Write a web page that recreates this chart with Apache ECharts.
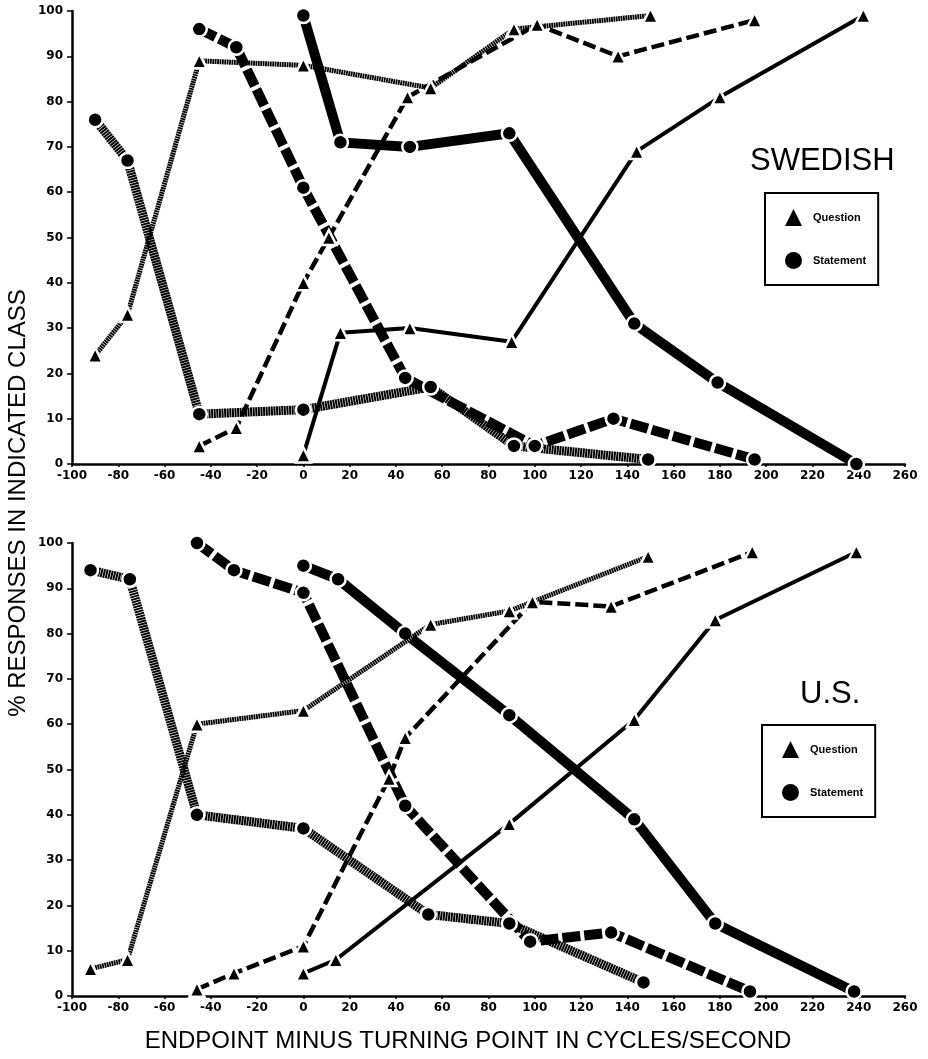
<!DOCTYPE html>
<html>
<head>
<meta charset="utf-8">
<script src="https://cdn.jsdelivr.net/npm/echarts@6/dist/echarts.min.js"></script>
<style>
  html, body { margin: 0; padding: 0; background: #fff; }
  #chart { width: 928px; height: 1059px; }
</style>
</head>
<body>
<div id="chart"></div>
<script>
// x = endpoint minus turning point (cps), y = % responses
// Swedish panel
const swQHatch = [[-90, 24], [-76, 33], [-45, 89], [0, 88], [55, 83], [91, 96], [150, 99]];
const swSHatch = [[-90, 76], [-76, 67], [-45, 11], [0, 12], [55, 17], [91, 4], [149, 1]];
const swQDash  = [[-45, 4], [-29, 8], [0, 40], [11, 50], [45, 81], [101, 97], [136, 90], [195, 98]];
const swSDash  = [[-45, 96], [-29, 92], [0, 61], [44, 19], [100, 4], [134, 10], [195, 1]];
const swQSolid = [[0, 2], [16, 29], [46, 30], [90, 27], [144, 69], [180, 81], [242, 99]];
const swSSolid = [[0, 99], [16, 71], [46, 70], [89, 73], [143, 31], [179, 18], [239, 0]];
// U.S. panel
const usQHatch = [[-92, 6], [-76, 8], [-46, 60], [0, 63], [55, 82], [89, 85], [149, 97]];
const usSHatch = [[-92, 94], [-75, 92], [-46, 40], [0, 37], [54, 18], [89, 16], [147, 3]];
const usQDash  = [[-46, 1.5], [-30, 5], [0, 11], [37, 48], [44, 57], [99, 87], [133, 86], [194, 98]];
const usSDash  = [[-46, 100], [-30, 94], [0, 89], [44, 42], [98, 12], [133, 14], [193, 1]];
const usQSolid = [[0, 5], [14, 8], [89, 38], [143, 61], [178, 83], [239, 98]];
const usSSolid = [[0, 95], [15, 92], [44, 80], [89, 62], [143, 39], [178, 16], [238, 1]];

const xMin = -100, xMax = 260, xStep = 20;
const yMin = 0, yMax = 100, yStep = 10;
const panelNames = ['SWEDISH', 'U.S.'];
const xTitle = 'ENDPOINT MINUS TURNING POINT IN CYCLES/SECOND';
const yTitle = '% RESPONSES IN INDICATED CLASS';

const tickFont = { fontFamily: 'DejaVu Sans', fontWeight: 'bold', fontSize: 12, color: '#000' };

// hatched lines: fine stripes across the stroke
const styles = {
  hatchQ: { width: 5, type: [1.8, 0.6] },
  hatchS: { width: 9, type: [2, 0.6] },
  dashQ:  { width: 4.5, type: [13, 5] },
  dashS:  { width: 10, type: [18, 4] },
  solidQ: { width: 4, type: 'solid' },
  solidS: { width: 10, type: 'solid' }
};

function mk(name, data, idx, st) {
  const isQ = name === 'Question';
  return {
    type: 'line',
    name: name,
    data: data,
    xAxisIndex: idx,
    yAxisIndex: idx,
    symbol: isQ ? 'triangle' : 'circle',
    symbolSize: 15,
    clip: false,
    animation: false,
    lineStyle: Object.assign({ color: '#000', cap: 'butt' }, styles[st]),
    itemStyle: { color: '#000', borderColor: '#fff', borderWidth: 2.5 },
    z: isQ ? 3 : 2
  };
}

function xAx(idx) {
  return {
    type: 'value', gridIndex: idx, min: xMin, max: xMax, interval: xStep,
    axisLine: { onZero: false, lineStyle: { color: '#000', width: 2.5 } },
    axisTick: { show: true, length: 3, lineStyle: { color: '#000', width: 1.5 } },
    axisLabel: Object.assign({ margin: 6 }, tickFont),
    splitLine: { show: false }
  };
}
function yAx(idx) {
  return {
    type: 'value', gridIndex: idx, min: yMin, max: yMax, interval: yStep,
    axisLine: { show: true, onZero: false, lineStyle: { color: '#000', width: 2.5 } },
    axisTick: { show: true, length: 5, lineStyle: { color: '#000', width: 1.5 } },
    axisLabel: Object.assign({ margin: 9 }, tickFont),
    splitLine: { show: false }
  };
}
function legendAt(left, top) {
  return {
    left: left, top: top, orient: 'vertical',
    data: [{ name: 'Question', icon: 'triangle' }, { name: 'Statement', icon: 'circle' }],
    itemWidth: 17, itemHeight: 17, itemGap: 26,
    itemStyle: { color: '#000', borderWidth: 0 },
    padding: [16, 12, 16, 20],
    borderColor: '#000', borderWidth: 2,
    selectedMode: false,
    textStyle: { fontFamily: 'Liberation Sans', fontWeight: 'bold', fontSize: 11, color: '#000', padding: [0, 0, 0, 6] }
  };
}

const chart = echarts.init(document.getElementById('chart'), null, { renderer: 'canvas' });
chart.setOption({
  backgroundColor: '#fff',
  animation: false,
  grid: [
    { left: 72, top: 11, width: 833, height: 453 },
    { left: 72, top: 543, width: 833, height: 453 }
  ],
  xAxis: [xAx(0), xAx(1)],
  yAxis: [yAx(0), yAx(1)],
  title: [
    { text: panelNames[0], left: 750, top: 146, padding: 0,
      textStyle: { fontFamily: 'Liberation Sans', fontSize: 31, fontWeight: 'normal', color: '#000' } },
    { text: panelNames[1], left: 800, top: 679, padding: 0,
      textStyle: { fontFamily: 'Liberation Sans', fontSize: 31, fontWeight: 'normal', color: '#000' } }
  ],
  legend: [legendAt(765, 193), legendAt(762, 725)],
  graphic: [{
    type: 'text', x: 18, y: 503, rotation: Math.PI / 2,
    style: { text: yTitle, font: '24px "Liberation Sans"', fill: '#000', align: 'center', verticalAlign: 'middle' }
  }, {
    type: 'text', x: 468, y: 1041,
    style: { text: xTitle, font: '24px "Liberation Sans"', fill: '#000', align: 'center', verticalAlign: 'middle' }
  }],
  series: [
    mk('Question', swQHatch, 0, 'hatchQ'),
    mk('Statement', swSHatch, 0, 'hatchS'),
    mk('Question', swQDash, 0, 'dashQ'),
    mk('Statement', swSDash, 0, 'dashS'),
    mk('Question', swQSolid, 0, 'solidQ'),
    mk('Statement', swSSolid, 0, 'solidS'),
    mk('Question', usQHatch, 1, 'hatchQ'),
    mk('Statement', usSHatch, 1, 'hatchS'),
    mk('Question', usQDash, 1, 'dashQ'),
    mk('Statement', usSDash, 1, 'dashS'),
    mk('Question', usQSolid, 1, 'solidQ'),
    mk('Statement', usSSolid, 1, 'solidS')
  ]
});
</script>
</body>
</html>
